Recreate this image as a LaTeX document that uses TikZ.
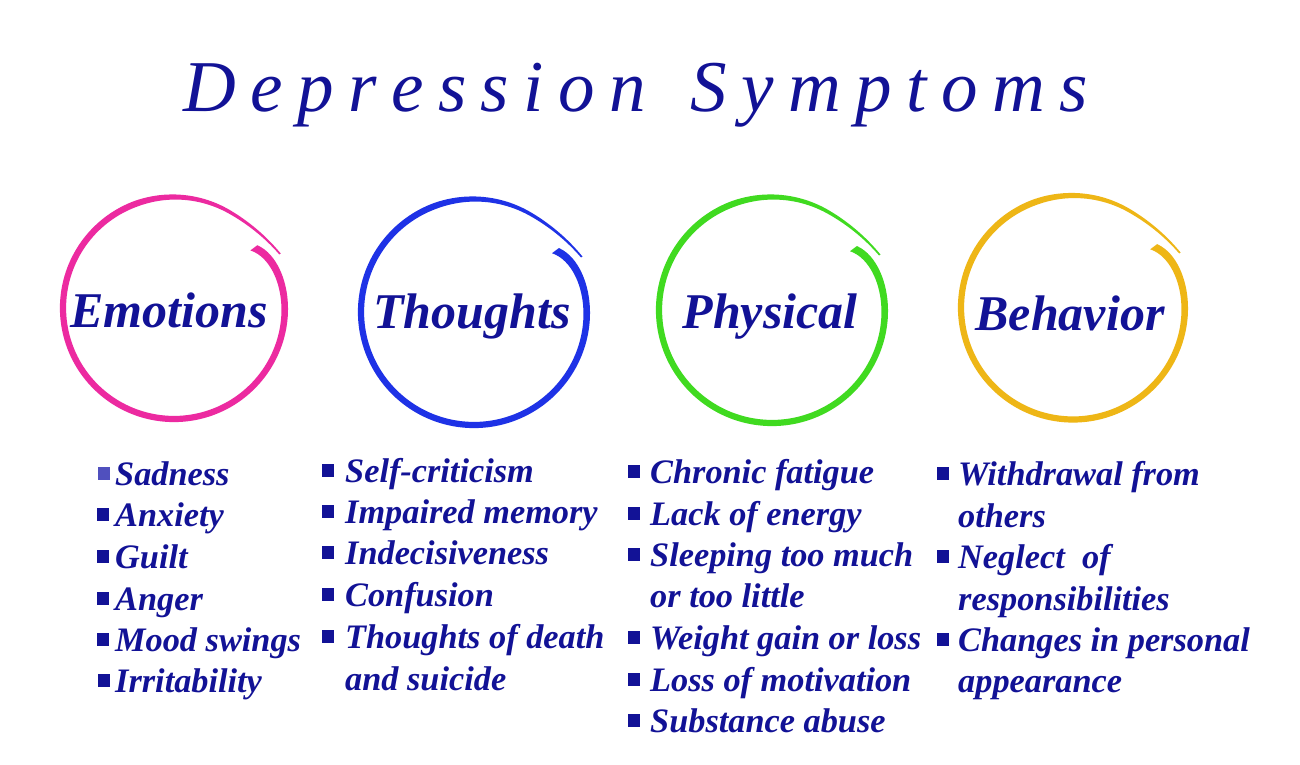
\documentclass[tikz,border=0pt]{standalone}
\usepackage{fontspec}
\setmainfont{Liberation Serif}
\definecolor{navy}{RGB}{18,18,150}
\definecolor{navylt}{RGB}{80,80,190}
\definecolor{cpink}{RGB}{236,42,160}
\definecolor{cblue}{RGB}{30,50,230}
\definecolor{cgreen}{RGB}{64,218,32}
\definecolor{cgold}{RGB}{238,182,22}
\newcommand{\tsp}{\hspace{14.5pt}}
\newcommand{\swirl}[4]{%
  \fill[#4] plot[domain=-37:333,samples=180,variable=\t]
    ({#1+(#3+swrad(\t)+swwid(\t))*cos(\t)},{#2+(#3+swrad(\t)+swwid(\t))*sin(\t)})
    -- plot[domain=333:-37,samples=180,variable=\t]
    ({#1+(#3+swrad(\t)-swwid(\t))*cos(\t)},{#2+(#3+swrad(\t)-swwid(\t))*sin(\t)}) -- cycle;}
\newcommand{\entry}[6][navy]{%
  \node[bul,fill=#1] (#2b) at (#3+6,#5-11.5) {};
  \node[item] (#2) at (#4,#5) {#6};}
\newcommand{\cont}[4]{\node[item] (#1) at (#2,#3) {#4};}
\begin{document}
\begin{tikzpicture}[x=1pt,y=-1pt,
  declare function={
    swrad(\t)=-11*exp(max(-15,-(\t+37)/10))+8*(max(0,(\t-300)/33))^2;
    swwid(\t)=(3.1+1.2*exp(max(-15,-(\t+37)/20)))*(1-0.72*max(0,(\t-250)/83));
  },
  lbl/.style={font=\fontsize{50}{60}\selectfont\bfseries\itshape, text=navy, inner sep=0pt, anchor=base},
  item/.style={font=\fontsize{34.3}{41}\selectfont\bfseries\itshape, text=navy, inner sep=0pt, anchor=base west},
  bul/.style={minimum size=12.3pt, inner sep=0pt, draw=none},
  ttl/.style={font=\fontsize{73}{80}\selectfont\itshape, text=navy, inner sep=0pt, anchor=base west}]
\fill[white] (0,0) rectangle (1300,764);
\useasboundingbox (0,0) rectangle (1300,764);

% title
\node[ttl] (title) at (183,111) {D\tsp e\tsp p\tsp r\tsp e\tsp s\tsp s\tsp i\tsp o\tsp n\hspace{44pt}S\tsp y\tsp m\tsp p\tsp t\tsp o\tsp m\tsp s};

% circles
\swirl{174}{308}{111}{cpink}
\swirl{474}{312}{113}{cblue}
\swirl{772}{310}{113}{cgreen}
\swirl{1073}{307.5}{112}{cgold}

\node[lbl] (emo) at (169,327) {Emotions};
\node[lbl] (tho) at (472,328) {Thoughts};
\node[lbl] (phy) at (770,328) {Physical};
\node[lbl] (beh) at (1070,330) {Behavior};

% Emotions
\entry[navylt]{e1}{98}{115}{485}{Sadness}
\entry{e2}{97}{115}{526}{Anxiety}
\entry{e3}{97}{115}{568}{Guilt}
\entry{e4}{97}{115}{610}{Anger}
\entry{e5}{97}{115}{651}{Mood swings}
\entry{e6}{98}{115}{692}{Irritability}

% Thoughts
\entry{t1}{322}{345}{482}{Self-criticism}
\entry{t2}{322}{345}{523}{Impaired memory}
\entry{t3}{322}{345}{564}{Indecisiveness}
\entry{t4}{322}{345}{606}{Confusion}
\entry{t5}{322}{345}{648}{Thoughts of death}
\cont{t6}{345}{690}{and suicide}

% Physical
\entry{p1}{628}{650}{483}{Chronic fatigue}
\entry{p2}{628}{650}{525}{Lack of energy}
\entry{p3}{628}{650}{566}{Sleeping too much}
\cont{p4}{650}{607}{or too little}
\entry{p5}{628}{650}{649}{Weight gain or loss}
\entry{p6}{628}{650}{691}{Loss of motivation}
\entry{p7}{628}{650}{732}{Substance abuse}

% Behavior
\entry{b1}{937}{958}{485}{Withdrawal from}
\cont{b2}{958}{527}{others}
\entry{b3}{937}{958}{568}{Neglect\hspace{0.5em}of}
\cont{b4}{958}{610}{responsibilities}
\entry{b5}{937}{958}{651}{Changes in personal}
\cont{b6}{958}{692}{appearance}
\end{tikzpicture}
\end{document}
